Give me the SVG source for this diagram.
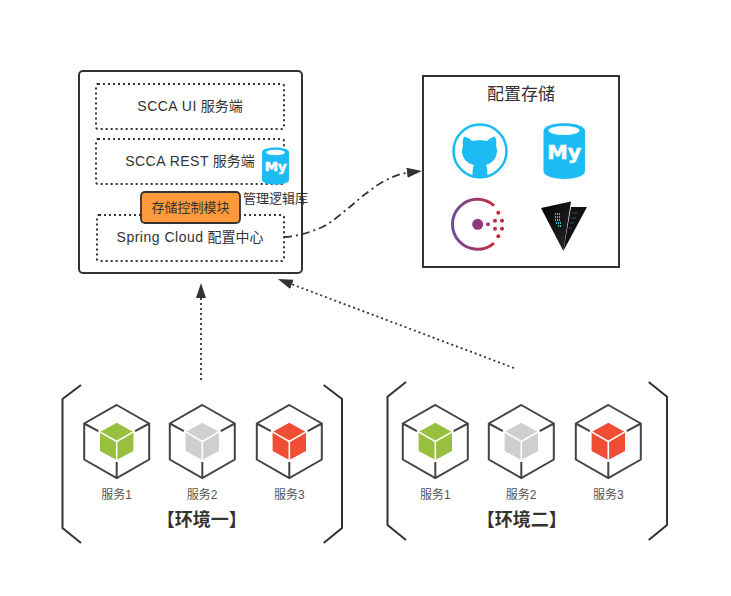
<svg xmlns="http://www.w3.org/2000/svg" width="731" height="596" viewBox="0 0 731 596">
<style>
text{font-family:"Liberation Sans","Noto Sans CJK SC",sans-serif;fill:#333;text-anchor:middle}
.t14{font-size:14px}
.lat{letter-spacing:.5px}
.t13{font-size:13px}
.svc{font-size:12px;fill:#555}
.env{font-size:18px;font-weight:bold}
.dot{fill:none;stroke:#333;stroke-width:2;stroke-dasharray:2 3}
.solid{fill:#fff;stroke:#333;stroke-width:2}
.br{fill:none;stroke:#333;stroke-width:2}
.conn{fill:none;stroke:#333;stroke-width:1.800}
.my{fill:#fff;font-family:"DejaVu Sans",sans-serif;font-weight:bold;stroke:#fff;stroke-width:.6}
</style>
<defs>
<marker id="arrow" markerUnits="userSpaceOnUse" markerWidth="16" markerHeight="12" refX="1" refY="5.5" orient="auto"><path d="M0,0.5 L15,5.5 L0,10.5 Z" fill="#333"/></marker>
<linearGradient id="consul" x1="1" y1="0" x2="0" y2="0"><stop offset="0" stop-color="#c62a3e"/><stop offset="1" stop-color="#6f4a9e"/></linearGradient>
<linearGradient id="vf" x1="0" y1="0" x2="1" y2="1"><stop offset="0" stop-color="#000"/><stop offset="1" stop-color="#2b2b2b"/></linearGradient>
<g id="hex"><path d="M0,-36.5 L32.5,-18 L32.5,18 L0,36.5 L-32.5,18 L-32.5,-18 Z M-32.5,-18 L-18.4,-10.3 M32.5,-18 L18.4,-10.3 M0,36.5 L0,20.5" fill="none" stroke="#444" stroke-width="2"/></g>
<path id="inner" d="M0,-18.8 L16.7,-9.6 L16.7,9.5 L0,18.5 L-16.7,9.5 L-16.7,-9.6 Z"/>
<path id="spokes" d="M-16.7,-9.6 L0,0 L16.7,-9.6 M0,0 L0,18.5" fill="none" stroke="#fff" stroke-width="1.600"/>
</defs>

<g id="scca-box"><rect class="solid" x="79" y="71" width="223" height="202" rx="4"/></g>
<g id="scca-ui"><rect class="dot" x="96" y="84" width="188" height="45" rx="2"/><text class="t14" x="190" y="111"><tspan class="lat">SCCA UI</tspan> 服务端</text></g>
<g id="scca-rest"><rect class="dot" x="96" y="139" width="188" height="45" rx="2"/><text class="t14" x="190" y="166"><tspan class="lat">SCCA REST</tspan> 服务端</text></g>
<g id="spring-cloud"><rect class="dot" x="97" y="215" width="187" height="46" rx="2"/><text class="t14" x="190" y="242"><tspan class="lat">Spring Cloud</tspan> 配置中心</text></g>
<g id="storage-control"><rect x="141" y="192" width="99" height="31" rx="4" fill="#ff9a3c" stroke="#333" stroke-width="1.800"/><text class="t13" x="190.500" y="212">存储控制模块</text></g>
<g id="mysql-small">
<path d="M262,152 C262,146 289,146 289,152 L289,180 C289,186 262,186 262,180 Z" fill="#1cbbf4"/>
<ellipse cx="275.500" cy="152.500" rx="9.500" ry="2.800" fill="#fff"/>
<text class="my" x="275.700" y="170.700" font-size="13" textLength="22" lengthAdjust="spacingAndGlyphs">My</text>
</g>
<g id="logic-db-label"><text class="t13" x="275.500" y="203">管理逻辑库</text></g>

<g id="storage-box"><rect class="solid" x="423" y="76" width="196" height="191"/><text x="521" y="100" font-size="17">配置存储</text></g>
<g id="github">
<circle cx="480" cy="151" r="26.500" fill="#fff" stroke="#1cbbf4" stroke-width="2.500"/>
<path d="M464,136.500 C467,137 470,139 472,141 C476,140 483,140 487,141 C489,139 492,137 495,136.500 C496.500,140 496.500,143 496,146 C498,150 497,157 493,161 C491,163 488,164 486,165 C487,167 487.500,170 487.500,177.500 C483,178 477,178 472.500,177.500 C472.500,170 473,167 474,165 C471,164 468,163 466,161 C462,157 461,150 463,146 C462.500,143 462.500,140 464,136.500 Z" fill="#1cbbf4"/>
</g>
<g id="mysql">
<path d="M543.500,131 C543.500,120.500 585,120.500 585,131 L585,171 C585,181.500 543.500,181.500 543.500,171 Z" fill="#1cbbf4"/>
<ellipse cx="564" cy="130.500" rx="15.500" ry="4.500" fill="#fff"/>
<text class="my" x="564.300" y="158.500" font-size="20" textLength="34" lengthAdjust="spacingAndGlyphs">My</text>
</g>
<g id="consul-logo">
<path d="M494,205.500 A25,25 0 1 0 494,243" fill="none" stroke="url(#consul)" stroke-width="3"/>
<circle cx="477.700" cy="224.300" r="5.500" fill="#8e3a80"/>
<circle cx="488" cy="224.300" r="2" fill="#a83a70"/>
<g fill="#c62a3e"><circle cx="498.300" cy="212.700" r="2"/><circle cx="495" cy="220.700" r="2"/><circle cx="502" cy="220.700" r="2"/><circle cx="495" cy="228.700" r="2"/><circle cx="502" cy="228.700" r="2"/><circle cx="498.300" cy="236.300" r="2"/></g>
</g>
<g id="vault-logo">
<path d="M571,207 L587,207 L563.300,251 Z" fill="#111"/>
<path d="M541,208 L571,201.500 L563.300,251 Z" fill="url(#vf)"/>
<path d="M555,214 h5 M555,217 h6 M555,220 h6 M556,223 h5 M558,226 h3" stroke="#30c8d8" stroke-width="1.800" stroke-dasharray="1 1"/>
<path d="M572,213 h6 M571,218 h5 M570,223 h4 M569,228 h3" stroke="#1d6f7a" stroke-width=".8"/>
</g>

<g id="env1-brackets"><path class="br" d="M81,385 L62.500,399 L62.500,528 L81,543"/><path class="br" d="M323.700,385 L342,399 L342,528 L323.700,543"/></g>
<g id="env1-svc1"><use href="#hex" x="116.700" y="441.500"/><use href="#inner" x="116.700" y="441.500" fill="#97c03f"/><use href="#spokes" x="116.700" y="441.500"/><text class="svc" x="116.700" y="499">服务1</text></g>
<g id="env1-svc2"><use href="#hex" x="202.300" y="441.500"/><use href="#inner" x="202.300" y="441.500" fill="#cfcfcf"/><use href="#spokes" x="202.300" y="441.500"/><text class="svc" x="202" y="499">服务2</text></g>
<g id="env1-svc3"><use href="#hex" x="289.300" y="441.500"/><use href="#inner" x="289.300" y="441.500" fill="#ef4e35"/><use href="#spokes" x="289.300" y="441.500"/><text class="svc" x="289.300" y="499">服务3</text></g>
<g id="env1-label"><text class="env" x="201.700" y="526">【环境一】</text></g>

<g id="env2-brackets"><path class="br" d="M406,382 L387.500,396.700 L387.500,525 L406,540"/><path class="br" d="M648.700,382 L667,396.700 L667,525 L648.700,540"/></g>
<g id="env2-svc1"><use href="#hex" x="435.300" y="441.500"/><use href="#inner" x="435.300" y="441.500" fill="#97c03f"/><use href="#spokes" x="435.300" y="441.500"/><text class="svc" x="435.300" y="499">服务1</text></g>
<g id="env2-svc2"><use href="#hex" x="521.300" y="441.500"/><use href="#inner" x="521.300" y="441.500" fill="#cfcfcf"/><use href="#spokes" x="521.300" y="441.500"/><text class="svc" x="521" y="499">服务2</text></g>
<g id="env2-svc3"><use href="#hex" x="608.300" y="441.500"/><use href="#inner" x="608.300" y="441.500" fill="#ef4e35"/><use href="#spokes" x="608.300" y="441.500"/><text class="svc" x="608.300" y="499">服务3</text></g>
<g id="env2-label"><text class="env" x="521.700" y="526">【环境二】</text></g>

<g id="connectors">
<path class="conn" d="M284,237 C298,236.500 311,232 323,226.700 C334,221 342,213 350,206.700 C356,202 361,197 366.700,193 C372,189 377,185 383,181.700 C391,177.500 398,174 408,172.700" stroke-dasharray="8 4 2 4" marker-end="url(#arrow)"/>
<path class="conn" d="M201,380 L201,297" stroke-width="2" stroke-dasharray="2 3" marker-end="url(#arrow)"/>
<path class="conn" d="M514,368 L291,284" stroke-dasharray="2 3" marker-end="url(#arrow)"/>
</g>
</svg>
